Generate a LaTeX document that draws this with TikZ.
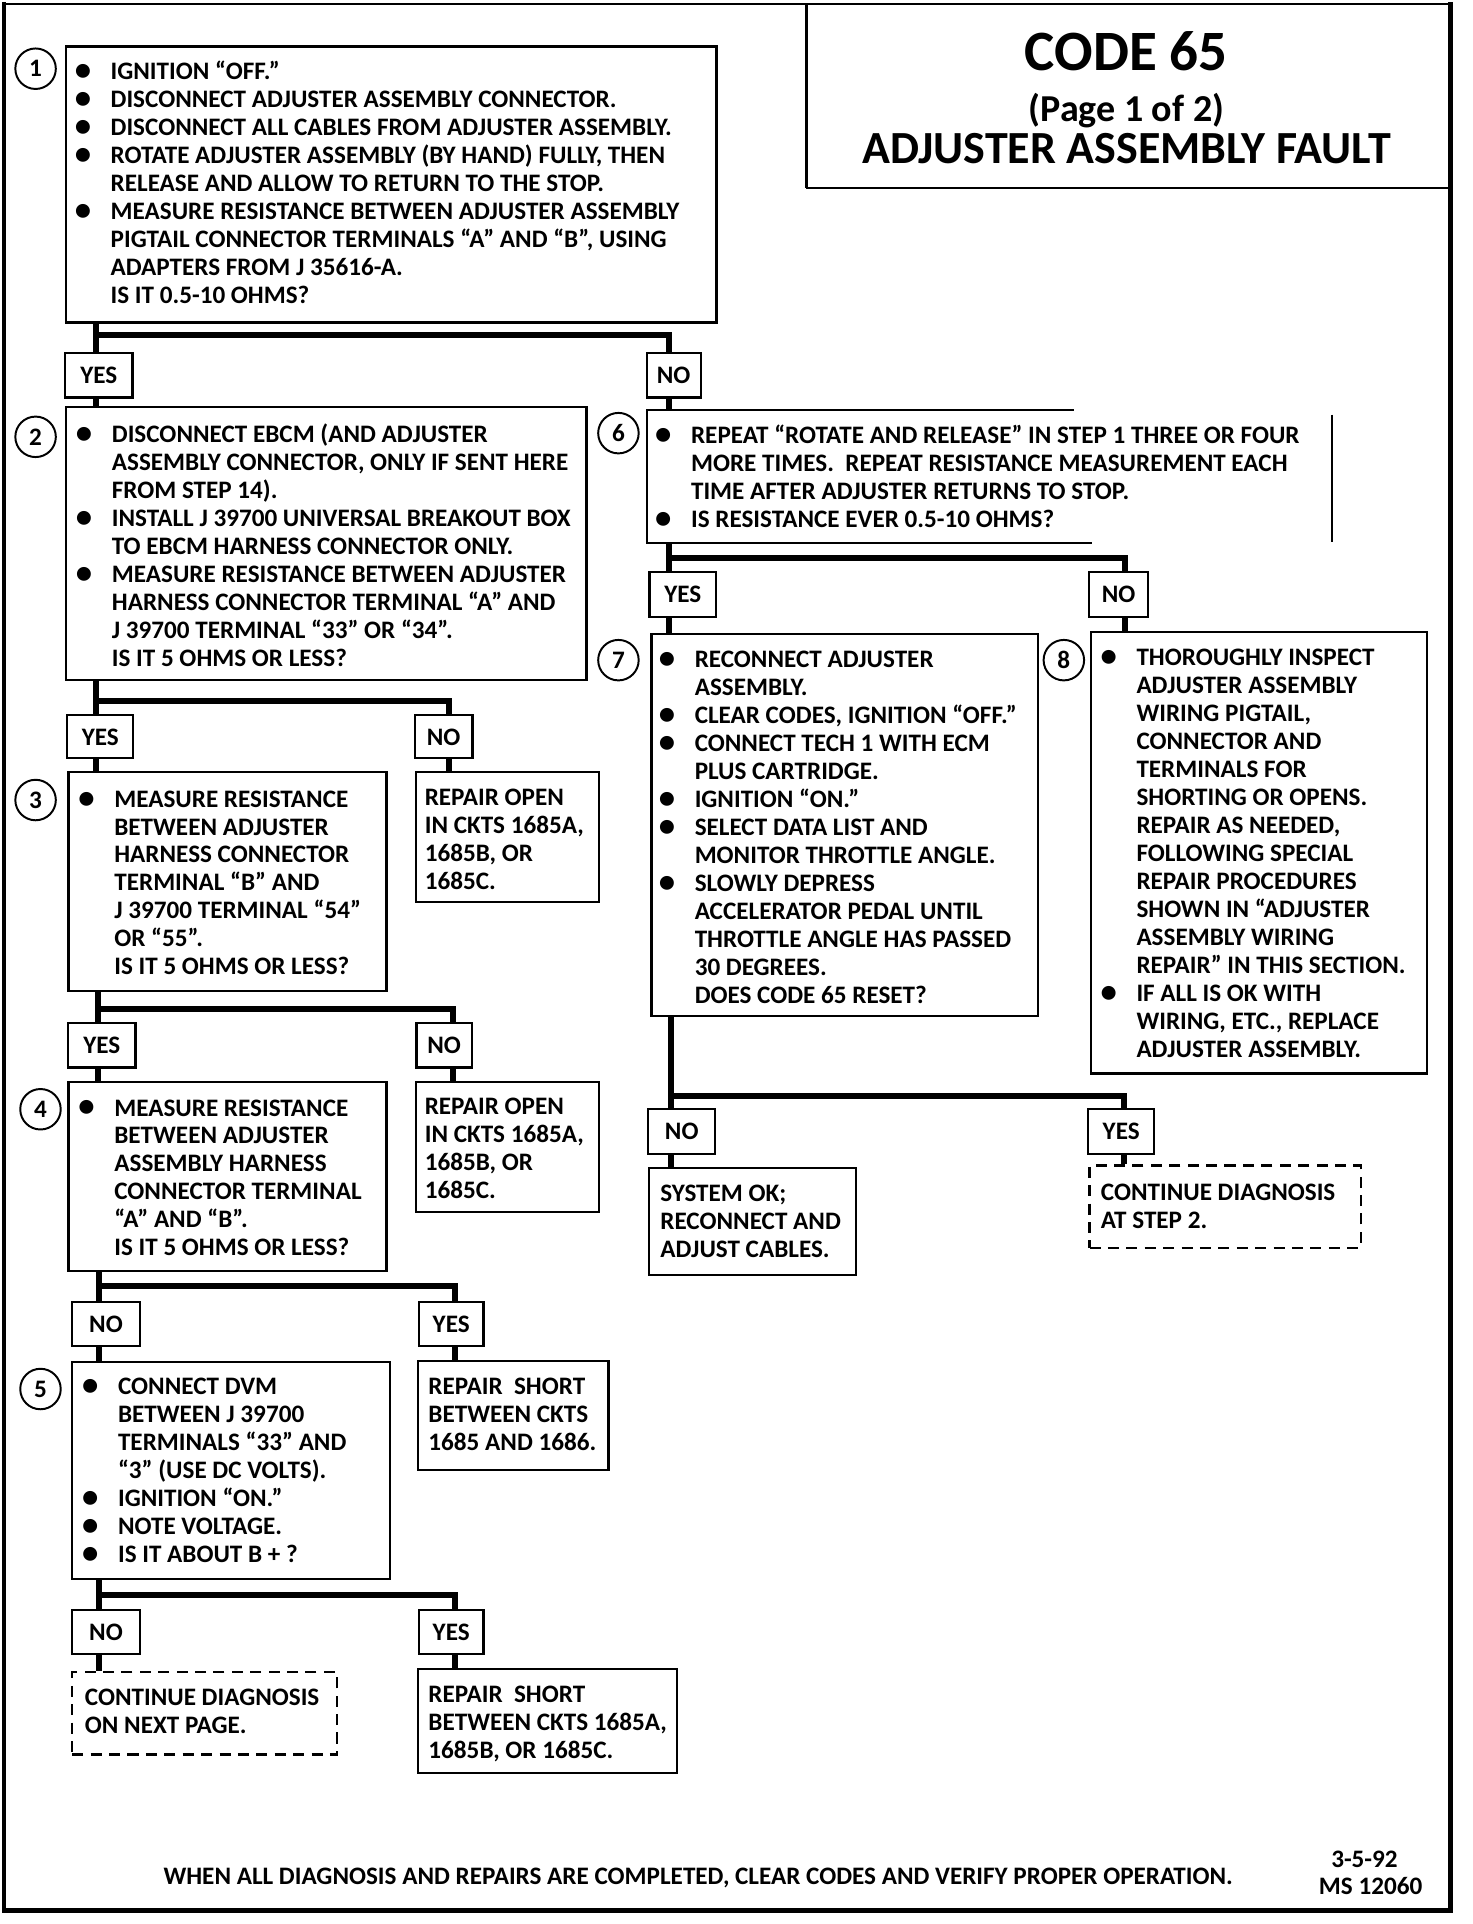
\documentclass[tikz,border=0pt]{standalone}
\usepackage{graphicx}
\usepackage{fontspec}
\setmainfont{Carlito}
\newcommand\bodyf{\bfseries\fontsize{20.5}{22.8}\selectfont}
\newcommand\bul{\llap{\raisebox{-0.8pt}{\scalebox{1.3}{\textbullet}}\hspace{16pt}}}
\begin{document}
\begin{tikzpicture}[x=1pt,y=-1pt,
  box/.style={draw, line width=1.8pt, inner sep=0, anchor=north west},
  dbox/.style={box, dash pattern=on 9pt off 6pt},
  txt/.style={anchor=base west, align=left, inner sep=0, font=\bodyf},
  yn/.style={draw, line width=1.8pt, inner sep=0, minimum height=36pt, font=\bodyf},
  num/.style={circle, draw, line width=1.6pt, minimum size=33pt, inner sep=0, font=\bodyf},
  conn/.style={line width=5pt, line join=miter}]
\useasboundingbox (0,0) rectangle (1200,1568);
% page frame
\draw[line width=1.5pt] (3,3) -- (1182,3);
\draw[line width=3.5pt] (3,1.5) -- (3,1557) -- (1182,1557) -- (1182,1.5);
% title box
\draw[line width=2.5pt] (657,3) -- (657,153);
\draw[line width=2pt] (657,153) -- (1182,153);
\node[inner sep=0, font=\bfseries\fontsize{46.5}{46.5}\selectfont] (tt1) at (918,42) {CODE 65};
\node[inner sep=0, font=\bfseries\fontsize{31}{31}\selectfont] (tt2) at (918,90) {(Page 1 of 2)};
\node[inner sep=0, font=\bfseries\fontsize{37.5}{37.5}\selectfont] (tt3) at (918,121) {ADJUSTER ASSEMBLY FAULT};

% boxes
\node[box, minimum width=530pt, minimum height=225pt] (b1) at (53,37) {};
\node[box, minimum width=424pt, minimum height=222pt] (b2) at (53,331) {};
\node[box, minimum width=259pt, minimum height=179pt] (b3) at (55,628) {};
\node[box, minimum width=149pt, minimum height=106pt] (r1) at (338,628) {};
\node[box, minimum width=259pt, minimum height=154pt] (b4) at (55,881) {};
\node[box, minimum width=149pt, minimum height=106pt] (r2) at (338,881) {};
\node[box, minimum width=259pt, minimum height=177pt] (b5) at (58,1109) {};
\node[box, minimum width=155pt, minimum height=89pt] (r3) at (340,1108) {};
\node[dbox, minimum width=216pt, minimum height=67pt] (d1) at (58,1362) {};
\node[box, minimum width=211pt, minimum height=85pt] (r4) at (340,1359) {};
\node[box, draw=none, minimum width=557pt, minimum height=107pt] (b6) at (527,334) {};
\draw[line width=1.8pt] ([xshift=348pt]b6.north west) -- (b6.north west) -- (b6.south west) -- ([xshift=363pt]b6.south west);
\draw[line width=1.8pt] ([yshift=-4pt]b6.north east) -- ([yshift=1pt]b6.south east);
\node[box, minimum width=315pt, minimum height=311pt] (b7) at (530,516) {};
\node[box, minimum width=274pt, minimum height=360pt] (b8) at (888,514) {};
\node[box, minimum width=169pt, minimum height=87pt] (s1) at (528,951) {};
\node[dbox, minimum width=221pt, minimum height=67pt] (d2) at (887,949) {};

% step numbers
\node[num] (c1) at (29,56) {1};
\node[num] (c2) at (29,356) {2};
\node[num] (c3) at (29,652) {3};
\node[num] (c4) at (33,904) {4};
\node[num] (c5) at (33,1132) {5};
\node[num] (c6) at (504,353) {6};
\node[num] (c7) at (504,538) {7};
\node[num] (c8) at (867,538) {8};

% yes / no labels
\node[yn, minimum width=55pt] (y1) at (80.5,306) {YES};
\node[yn, minimum width=44pt] (n1) at (549,306) {NO};
\node[yn, minimum width=54pt, minimum height=35pt] (y2) at (81.7,600.5) {YES};
\node[yn, minimum width=47pt, minimum height=35pt] (n2) at (361.5,600.5) {NO};
\node[yn, minimum width=55pt] (y3) at (83,852) {YES};
\node[yn, minimum width=45pt] (n3) at (362,852) {NO};
\node[yn, minimum width=56pt] (n4) at (86.4,1079) {NO};
\node[yn, minimum width=52.5pt] (y4) at (367.7,1079) {YES};
\node[yn, minimum width=56pt] (n5) at (86.4,1330) {NO};
\node[yn, minimum width=52.5pt] (y5) at (367.7,1330) {YES};
\node[yn, minimum width=54.4pt, minimum height=37pt] (y6) at (556.5,484.5) {YES};
\node[yn, minimum width=47.6pt, minimum height=37pt] (n6) at (911.6,484.5) {NO};
\node[yn, minimum width=54.5pt, minimum height=37pt] (n7) at (555.6,922) {NO};
\node[yn, minimum width=54pt, minimum height=37pt] (y7) at (913.7,922) {YES};

% connectors
\coordinate (j1) at (78,273);  \coordinate (k1) at (545,273);
\coordinate (j2) at (78,571);  \coordinate (k2) at (366,571);
\coordinate (j3) at (80,822);  \coordinate (k3) at (369,822);
\coordinate (j4) at (81,1048); \coordinate (k4) at (371,1048);
\coordinate (j5) at (81,1300); \coordinate (k5) at (371,1300);
\coordinate (j6) at (545,455); \coordinate (k6) at (917,455);
\coordinate (j7) at (547,893); \coordinate (k7) at (916,893);
\draw[conn] (b1.south -| j1) -- (y1.north -| j1);
\draw[conn] (j1) -- (k1) -- (n1.north -| k1);
\draw[conn] (y1.south -| j1) -- (b2.north -| j1);
\draw[conn] (n1.south -| k1) -- (b6.north -| k1);
\draw[conn] (b2.south -| j2) -- (y2.north -| j2);
\draw[conn] (j2) -- (k2) -- (n2.north -| k2);
\draw[conn] (y2.south -| j2) -- (b3.north -| j2);
\draw[conn] (n2.south -| k2) -- (r1.north -| k2);
\draw[conn] (b3.south -| j3) -- (y3.north -| j3);
\draw[conn] (j3) -- (k3) -- (n3.north -| k3);
\draw[conn] (y3.south -| j3) -- (b4.north -| j3);
\draw[conn] (n3.south -| k3) -- (r2.north -| k3);
\draw[conn] (b4.south -| j4) -- (n4.north -| j4);
\draw[conn] (j4) -- (k4) -- (y4.north -| k4);
\draw[conn] (n4.south -| j4) -- (b5.north -| j4);
\draw[conn] (y4.south -| k4) -- (r3.north -| k4);
\draw[conn] (b5.south -| j5) -- (n5.north -| j5);
\draw[conn] (j5) -- (k5) -- (y5.north -| k5);
\draw[conn] (n5.south -| j5) -- (d1.north -| j5);
\draw[conn] (y5.south -| k5) -- (r4.north -| k5);
\draw[conn] (b6.south -| j6) -- (y6.north -| j6);
\draw[conn] (j6) -- (k6) -- (n6.north -| k6);
\draw[conn] (y6.south -| j6) -- (b7.north -| j6);
\draw[conn] (n6.south -| k6) -- (b8.north -| k6);
\draw[conn] (b7.south -| j7) -- (n7.north -| j7);
\draw[conn] (j7) -- (k7) -- (y7.north -| k7);
\draw[conn] (n7.south -| j7) -- (s1.north -| j7);
\draw[conn] (y7.south -| k7) -- (d2.north -| k7);

% texts (anchor = baseline of the last line)
\node[txt] (t1) at (90,247) {\bul IGNITION “OFF.”\\
\bul DISCONNECT ADJUSTER ASSEMBLY CONNECTOR.\\
\bul DISCONNECT ALL CABLES FROM ADJUSTER ASSEMBLY.\\
\bul ROTATE ADJUSTER ASSEMBLY (BY HAND) FULLY, THEN\\
RELEASE AND ALLOW TO RETURN TO THE STOP.\\
\bul MEASURE RESISTANCE BETWEEN ADJUSTER ASSEMBLY\\
PIGTAIL CONNECTOR TERMINALS “A” AND “B”, USING\\
ADAPTERS FROM J 35616-A.\\
IS IT 0.5-10 OHMS?};
\node[txt] (t2) at (91,543) {\bul DISCONNECT EBCM (AND ADJUSTER\\
ASSEMBLY CONNECTOR, ONLY IF SENT HERE\\
FROM STEP 14).\\
\bul INSTALL J 39700 UNIVERSAL BREAKOUT BOX\\
TO EBCM HARNESS CONNECTOR ONLY.\\
\bul MEASURE RESISTANCE BETWEEN ADJUSTER\\
HARNESS CONNECTOR TERMINAL “A” AND\\
J 39700 TERMINAL “33” OR “34”.\\
IS IT 5 OHMS OR LESS?};
\node[txt] (t3) at (93,794.5) {\bul MEASURE RESISTANCE\\
BETWEEN ADJUSTER\\
HARNESS CONNECTOR\\
TERMINAL “B” AND\\
J 39700 TERMINAL “54”\\
OR “55”.\\
IS IT 5 OHMS OR LESS?};
\node[txt] (tr1) at (346,725) {REPAIR OPEN\\ IN CKTS 1685A,\\ 1685B, OR\\ 1685C.};
\node[txt] (t4) at (93,1023.5) {\bul MEASURE RESISTANCE\\
BETWEEN ADJUSTER\\
ASSEMBLY HARNESS\\
CONNECTOR TERMINAL\\
“A” AND “B”.\\
IS IT 5 OHMS OR LESS?};
\node[txt] (tr2) at (346,977) {REPAIR OPEN\\ IN CKTS 1685A,\\ 1685B, OR\\ 1685C.};
\node[txt] (t5) at (96,1273.5) {\bul CONNECT DVM\\
BETWEEN J 39700\\
TERMINALS “33” AND\\
“3” (USE DC VOLTS).\\
\bul IGNITION “ON.”\\
\bul NOTE VOLTAGE.\\
\bul IS IT ABOUT B + ?};
\node[txt] (tr3) at (349,1182) {REPAIR\ \ SHORT\\ BETWEEN CKTS\\ 1685 AND 1686.};
\node[txt] (td1) at (69,1412.8) {CONTINUE DIAGNOSIS\\ ON NEXT PAGE.};
\node[txt] (tr4) at (349,1433) {REPAIR\ \ SHORT\\ BETWEEN CKTS 1685A,\\ 1685B, OR 1685C.};
\node[txt] (t6) at (563,430) {\bul REPEAT “ROTATE AND RELEASE” IN STEP 1 THREE OR FOUR\\
MORE TIMES.\ \ REPEAT RESISTANCE MEASUREMENT EACH\\
TIME AFTER ADJUSTER RETURNS TO STOP.\\
\bul IS RESISTANCE EVER 0.5-10 OHMS?};
\node[txt] (t7) at (566,817.5) {\bul RECONNECT ADJUSTER\\
ASSEMBLY.\\
\bul CLEAR CODES, IGNITION “OFF.”\\
\bul CONNECT TECH 1 WITH ECM\\
PLUS CARTRIDGE.\\
\bul IGNITION “ON.”\\
\bul SELECT DATA LIST AND\\
MONITOR THROTTLE ANGLE.\\
\bul SLOWLY DEPRESS\\
ACCELERATOR PEDAL UNTIL\\
THROTTLE ANGLE HAS PASSED\\
30 DEGREES.\\
DOES CODE 65 RESET?};
\node[txt] (t8) at (926,861.7) {\bul THOROUGHLY INSPECT\\
ADJUSTER ASSEMBLY\\
WIRING PIGTAIL,\\
CONNECTOR AND\\
TERMINALS FOR\\
SHORTING OR OPENS.\\
REPAIR AS NEEDED,\\
FOLLOWING SPECIAL\\
REPAIR PROCEDURES\\
SHOWN IN “ADJUSTER\\
ASSEMBLY WIRING\\
REPAIR” IN THIS SECTION.\\
\bul IF ALL IS OK WITH\\
WIRING, ETC., REPLACE\\
ADJUSTER ASSEMBLY.};
\node[txt] (ts1) at (538,1025) {SYSTEM OK;\\ RECONNECT AND\\ ADJUST CABLES.};
\node[txt] (td2) at (897,1000.8) {CONTINUE DIAGNOSIS\\ AT STEP 2.};

% footer
\node[inner sep=0, anchor=base, font=\bodyf] (ft) at (569,1536) {WHEN ALL DIAGNOSIS AND REPAIRS ARE COMPLETED, CLEAR CODES AND VERIFY PROPER OPERATION.};
\node[inner sep=0, anchor=base, font=\bodyf] (fd) at (1112,1522) {3-5-92};
\node[inner sep=0, anchor=base, font=\bodyf] (fm) at (1117,1544) {MS 12060};
\end{tikzpicture}
\end{document}
